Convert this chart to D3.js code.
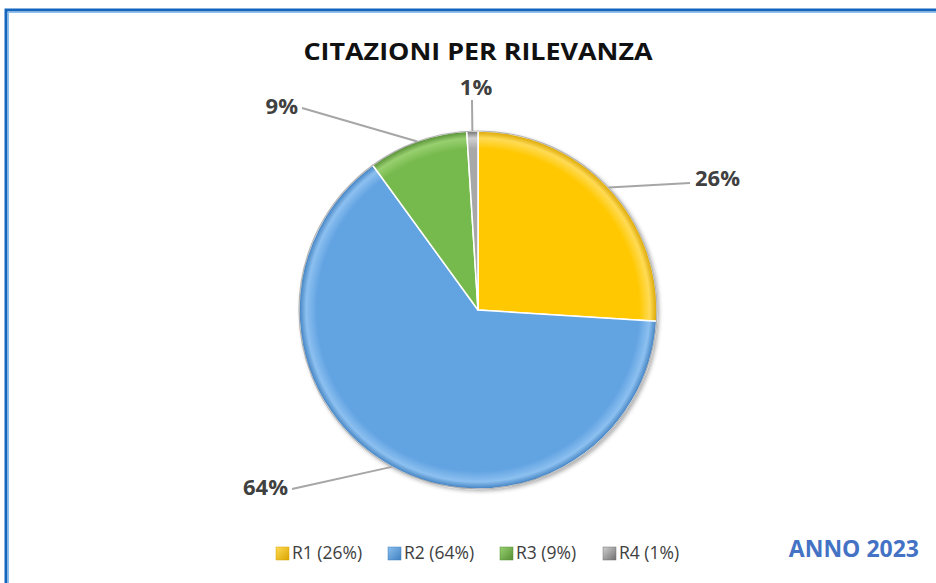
<!DOCTYPE html>
<html><head><meta charset="utf-8">
<script src="https://cdn.jsdelivr.net/npm/d3@7"></script>
<style>
html,body{margin:0;padding:0;background:#fff;}
svg{display:block;}
</style></head>
<body>
<svg id="chart" width="936" height="583"></svg>
<script>
// ---- data ----
const categories = ["R1", "R2", "R3", "R4"];
const values = [26, 64, 9, 1];
const legendLabels = ["R1 (26%)", "R2 (64%)", "R3 (9%)", "R4 (1%)"];
const pctLabels = ["26%", "64%", "9%", "1%"];
const title = "CITAZIONI PER RILEVANZA";
const yearLabel = "ANNO 2023";

// ---- style / layout ----
const colors = ["#FFC800", "#62A3E2", "#76B94C", "#A8A8A8"];
const lightColors = ["#FFDB55", "#8CC0F0", "#98D070", "#D0D0D0"];
const darkColors = ["#D9A400", "#3F7FBF", "#568F34", "#6F6F6F"];
const W = 936, H = 583;
const cx = 478, cy = 310, R = 179;
// label anchor (end of leader) offsets relative to the pie centre
const labelLayout = [
  {lx: 212, ly: -127, tx: 217, ty: -132, anchor: "start"},
  {lx: -186, ly: 179, tx: -190, ty: 177, anchor: "end"},
  {lx: -176, ly: -202, tx: -180, ty: -204, anchor: "end"},
  {lx: -6, ly: -210, tx: -2, ty: -223, anchor: "middle"}
];

const svg = d3.select("#chart");
const defs = svg.append("defs");

// frame
svg.append("rect").attr("x", 6).attr("y", 10).attr("width", W + 20).attr("height", H + 20)
  .attr("fill", "#fff").attr("stroke", "#1365BD").attr("stroke-width", 3);
svg.append("rect").attr("x", 8.5).attr("y", 12.5).attr("width", W + 20).attr("height", H + 20)
  .attr("fill", "none").attr("stroke", "#8CC0EE").attr("stroke-width", 1);

// title
svg.append("text").attr("x", cx).attr("y", 60).attr("text-anchor", "middle")
  .attr("font-family", "Open Sans, sans-serif").attr("font-weight", 700)
  .attr("font-size", 23).attr("fill", "#111")
  .attr("textLength", 349).attr("lengthAdjust", "spacingAndGlyphs")
  .text(title);

// filters & gradients
const sh = defs.append("filter").attr("id", "shadow").attr("x", "-20%").attr("y", "-20%")
  .attr("width", "140%").attr("height", "140%");
sh.append("feDropShadow").attr("dx", 2).attr("dy", 2).attr("stdDeviation", 2)
  .attr("flood-color", "#000").attr("flood-opacity", 0.35);

colors.forEach((c, i) => {
  const g = defs.append("radialGradient").attr("id", "grad" + i)
    .attr("gradientUnits", "userSpaceOnUse")
    .attr("cx", 0).attr("cy", 0).attr("r", R);
  g.append("stop").attr("offset", "0%").attr("stop-color", c);
  g.append("stop").attr("offset", "90%").attr("stop-color", c);
  g.append("stop").attr("offset", "96%").attr("stop-color", lightColors[i]);
  g.append("stop").attr("offset", "100%").attr("stop-color", darkColors[i]);
  const lg = defs.append("linearGradient").attr("id", "lg" + i)
    .attr("x1", 0).attr("y1", 0).attr("x2", 1).attr("y2", 1);
  lg.append("stop").attr("offset", "0%").attr("stop-color", lightColors[i]);
  lg.append("stop").attr("offset", "100%").attr("stop-color", darkColors[i]);
});

const pie = d3.pie().sort(null).value(d => d)(values);
const arc = d3.arc().innerRadius(0).outerRadius(R);
const edgeArc = d3.arc().innerRadius(R).outerRadius(R);

const pg = svg.append("g").attr("transform", `translate(${cx},${cy})`);
pg.append("circle").attr("r", R).attr("fill", "#888").attr("filter", "url(#shadow)");
pg.selectAll("path.slice").data(pie).join("path").attr("class", "slice")
  .attr("d", arc)
  .attr("fill", (d, i) => `url(#grad${i})`)
  .attr("stroke", "#fff").attr("stroke-width", 1.5).attr("stroke-linejoin", "round");
// outer rim
pg.append("circle").attr("r", R).attr("fill", "none")
  .attr("stroke", "#6a6a6a").attr("stroke-opacity", 0.5).attr("stroke-width", 1.2);

// leader lines and labels
const lab = svg.append("g").attr("transform", `translate(${cx},${cy})`);
pie.forEach((d, i) => {
  const p = edgeArc.centroid(d);
  const L = labelLayout[i];
  lab.append("polyline")
    .attr("points", [[p[0], p[1]], [L.lx, L.ly]].map(q => q.join(",")).join(" "))
    .attr("fill", "none").attr("stroke", "#A6A6A6").attr("stroke-width", 2);
  lab.append("text").attr("x", L.tx).attr("y", L.ty).attr("dy", "0.35em")
    .attr("text-anchor", L.anchor)
    .attr("font-family", "Open Sans, sans-serif").attr("font-weight", 700)
    .attr("font-size", 22).attr("fill", "#404040")
    .text(pctLabels[i]);
});

// legend
const legendX = [276, 388, 500, 603];
const lgG = svg.append("g");
categories.forEach((c, i) => {
  const g = lgG.append("g").attr("transform", `translate(${legendX[i]},553)`);
  g.append("rect").attr("x", 0).attr("y", -6).attr("width", 13).attr("height", 13)
    .attr("fill", `url(#lg${i})`).attr("stroke", darkColors[i]).attr("stroke-width", 0.5);
  g.append("text").attr("x", 16).attr("y", 0).attr("dy", "0.35em")
    .attr("font-family", "Open Sans, sans-serif").attr("font-size", 17.5)
    .attr("fill", "#404040").text(legendLabels[i]);
});

// year label
svg.append("text").attr("x", 919).attr("y", 549).attr("dy", "0.35em").attr("text-anchor", "end")
  .attr("font-family", "Open Sans, sans-serif").attr("font-weight", 700)
  .attr("font-size", 23).attr("fill", "#4472C4").text(yearLabel);
</script>
</body></html>
